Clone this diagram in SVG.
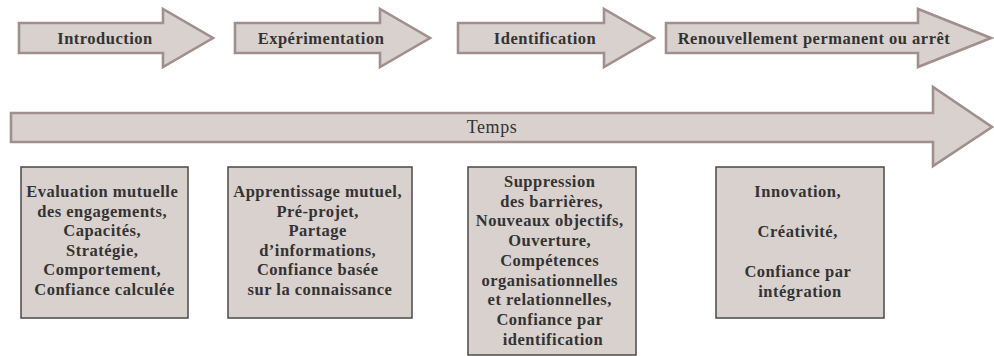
<svg xmlns="http://www.w3.org/2000/svg" width="994" height="356" viewBox="0 0 994 356">
<style>
.arr{fill:#d9d1ce;stroke:#a08f8c;stroke-width:2.6;stroke-linejoin:miter}
.box{fill:#d9d1ce;stroke:#4a4a4a;stroke-width:1.5}
.t{font-family:"Liberation Serif","Times New Roman",serif;font-weight:bold;font-size:16.5px;letter-spacing:0.5px;fill:#333;text-anchor:middle}
.tr{font-family:"Liberation Serif","Times New Roman",serif;font-size:18px;letter-spacing:0.6px;fill:#333;text-anchor:middle}
</style>
<rect width="994" height="356" fill="#fff"/>
<g id="connectors">
  <g id="phase-introduction">
    <polygon class="arr" points="19,23 163,23 163,9 213,38 163,67 163,53 19,53"/>
    <text class="t" x="105" y="43.5">Introduction</text>
  </g>
  <g id="phase-experimentation">
    <polygon class="arr" points="235,23 380,23 380,9 430,38 380,67 380,53 235,53"/>
    <text class="t" x="321" y="43.5">Expérimentation</text>
  </g>
  <g id="phase-identification">
    <polygon class="arr" points="458,23 604,23 604,9 654,38 604,67 604,53 458,53"/>
    <text class="t" x="545" y="43.5">Identification</text>
  </g>
  <g id="phase-renouvellement">
    <polygon class="arr" points="666,23 918,23 918,9 991,38 918,67 918,53 666,53"/>
    <text class="t" x="814" y="43.5">Renouvellement permanent ou arrêt</text>
  </g>
  <g id="temps">
    <polygon class="arr" points="11,113 933,113 933,87 992,127 933,166 933,142 11,142"/>
    <text class="tr" x="492" y="132.5">Temps</text>
  </g>
</g>
<g id="box1">
  <rect class="box" x="21" y="167" width="167" height="151"/>
  <text class="t">
    <tspan x="104.5" y="197">Evaluation mutuelle</tspan>
    <tspan x="104.5" y="216.5">des engagements,</tspan>
    <tspan x="104.5" y="236">Capacités,</tspan>
    <tspan x="104.5" y="255.5">Stratégie,</tspan>
    <tspan x="104.5" y="275">Comportement,</tspan>
    <tspan x="104.5" y="294.5">Confiance calculée</tspan>
  </text>
</g>
<g id="box2">
  <rect class="box" x="228" y="167" width="184" height="151"/>
  <text class="t">
    <tspan x="320" y="197">Apprentissage mutuel,</tspan>
    <tspan x="320" y="216.5">Pré-projet,</tspan>
    <tspan x="320" y="236">Partage</tspan>
    <tspan x="320" y="255.5">d’informations,</tspan>
    <tspan x="320" y="275">Confiance basée</tspan>
    <tspan x="320" y="294.5">sur la connaissance</tspan>
  </text>
</g>
<g id="box3">
  <rect class="box" x="468" y="167" width="168" height="188"/>
  <text class="t">
    <tspan x="552" y="187">Suppression</tspan>
    <tspan x="554" y="206.7">des barrières,</tspan>
    <tspan x="552" y="226.4">Nouveaux objectifs,</tspan>
    <tspan x="552" y="246.1">Ouverture,</tspan>
    <tspan x="552" y="265.8">Compétences</tspan>
    <tspan x="552" y="285.5">organisationnelles</tspan>
    <tspan x="552" y="305.2">et relationnelles,</tspan>
    <tspan x="552" y="324.9">Confiance par</tspan>
    <tspan x="553" y="344.6">identification</tspan>
  </text>
</g>
<g id="box4">
  <rect class="box" x="716" y="167" width="168" height="151"/>
  <text class="t">
    <tspan x="800" y="197">Innovation,</tspan>
    <tspan x="800" y="237">Créativité,</tspan>
    <tspan x="800" y="277">Confiance par</tspan>
    <tspan x="800" y="297">intégration</tspan>
  </text>
</g>
</svg>
